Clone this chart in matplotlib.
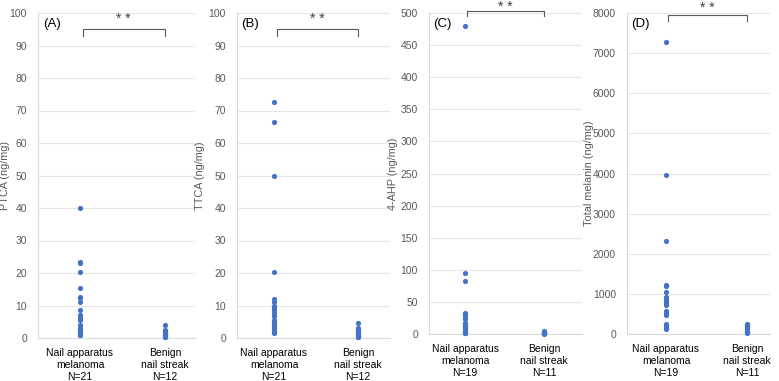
import matplotlib
matplotlib.use("Agg")
import matplotlib.pyplot as plt
import numpy as np

plt.rcParams['font.family'] = ['Liberation Sans', 'DejaVu Sans']

categories_21 = ["Nail apparatus\nmelanoma\nN=21", "Benign\nnail streak\nN=12"]
categories_19 = ["Nail apparatus\nmelanoma\nN=19", "Benign\nnail streak\nN=11"]

ptca_mel = [40, 23.5, 23, 20.3, 15.4, 12.7, 12.2, 11, 8.5, 7, 6.2, 5.5, 4, 3, 2.5, 2, 1.8, 1.5, 1.2, 1, 0.8]
ptca_ben = [4.1, 2.5, 2.2, 2, 1.8, 1.5, 1.3, 1, 0.8, 0.6, 0.4, 0.2]

ttca_mel = [72.7, 66.5, 50, 20.3, 12, 11.2, 10, 9.3, 8.6, 7.8, 6.8, 5.5, 5, 4.5, 4, 3.5, 3, 2.6, 2.2, 1.9, 1.6]
ttca_ben = [4.7, 3, 2.6, 2.2, 2, 1.7, 1.4, 1.1, 0.9, 0.6, 0.4, 0.2]

ahp_mel = [480, 95, 82, 32, 29, 25, 24, 17, 15, 13, 11, 9, 7, 5, 4, 3, 2, 1.5, 1]
ahp_ben = [4, 3.5, 3, 2.5, 2, 1.8, 1.5, 1.2, 1, 0.8, 0.5]

mel_mel = [7270, 3960, 2310, 1230, 1200, 1040, 920, 880, 830, 780, 720, 570, 520, 470, 260, 220, 180, 150, 120]
mel_ben = [260, 230, 200, 180, 150, 120, 100, 80, 60, 40, 20]

panels = [
    dict(label="(A)", ylabel="PTCA (ng/mg)", mel=ptca_mel, ben=ptca_ben, cats=categories_21,
         ymax=100, step=10, px=(38, 195, 13, 338), cx=(80, 165), br=(95.2, 93.0), soff=7, lab=28),
    dict(label="(B)", ylabel="TTCA (ng/mg)", mel=ttca_mel, ben=ttca_ben, cats=categories_21,
         ymax=100, step=10, px=(237, 390, 13, 338), cx=(274, 358), br=(95.2, 93.0), soff=7, lab=32),
    dict(label="(C)", ylabel="4-AHP (ng/mg)", mel=ahp_mel, ben=ahp_ben, cats=categories_19,
         ymax=500, step=50, px=(429, 582, 13, 334), cx=(465, 544), br=(503.5, 496), soff=2.8, lab=31),
    dict(label="(D)", ylabel="Total melanin (ng/mg)", mel=mel_mel, ben=mel_ben, cats=categories_19,
         ymax=8000, step=1000, px=(627, 770, 13, 334), cx=(666, 747), br=(7960, 7790), soff=4.5, lab=33),
]

W, H = 779, 381
fig = plt.figure(figsize=(W / 100, H / 100), dpi=100)
blue = '#4472C4'
grid = '#e6e6e6'
tickc = '#595959'

for p in panels:
    l, r, t, b = p['px']
    ax = fig.add_axes([l / W, 1 - b / H, (r - l) / W, (b - t) / H])
    c0, c1 = p['cx']
    sp = c1 - c0
    ax.set_xlim(-(c0 - l) / sp, 1 + (r - c1) / sp)
    ax.set_ylim(0, p['ymax'])
    ax.scatter(np.zeros(len(p['mel'])), p['mel'], s=14, color=blue, zorder=3, linewidths=0, clip_on=False)
    ax.scatter(np.ones(len(p['ben'])), p['ben'], s=14, color=blue, zorder=3, linewidths=0, clip_on=False)
    ax.set_yticks(np.arange(0, p['ymax'] + p['step'] / 2, p['step']))
    ax.set_xticks([0, 1])
    ax.set_xticklabels(p['cats'], fontsize=7.5, color='black', linespacing=1.25)
    ax.tick_params(axis='y', labelsize=7.5, labelcolor=tickc, length=0, pad=8)
    ax.tick_params(axis='x', length=0, pad=7.5)
    ax.yaxis.grid(True, color=grid, linewidth=0.8)
    ax.set_axisbelow(True)
    for s in ['top', 'right']:
        ax.spines[s].set_visible(False)
    ax.spines['left'].set_color('#d9d9d9')
    ax.spines['bottom'].set_color('#d9d9d9')
    ax.set_ylabel(p['ylabel'], fontsize=7.8, color=tickc)
    ax.yaxis.set_label_coords(-p['lab'] / (r - l), 0.5)
    ax.text(0.03, 0.985, p['label'], transform=ax.transAxes,
            fontsize=9.5, va='top', ha='left')
    top, bot = p['br']
    ax.plot([0.03, 0.03, 1, 1], [bot, top, top, bot], color='#595959', lw=0.8, clip_on=False)
    ax.annotate('* *', xy=(0.515, top), xytext=(0, p['soff']), textcoords='offset points',
                ha='center', va='center', fontsize=10, color='#404040', annotation_clip=False)

fig.savefig('out.png', dpi=100)
